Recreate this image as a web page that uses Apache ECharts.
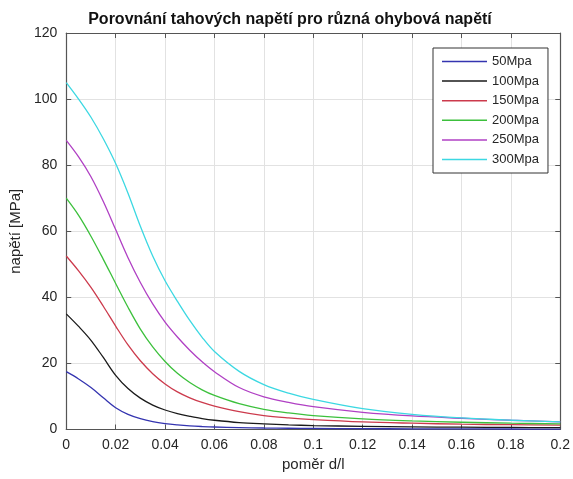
<!DOCTYPE html>
<html>
<head>
<meta charset="utf-8">
<script src="https://cdn.jsdelivr.net/npm/echarts/dist/echarts.min.js"></script>
<style>
  html, body { margin: 0; padding: 0; background: #fff; }
  #chart { width: 573px; height: 479px; }
</style>
</head>
<body>
<div id="chart"></div>
<script>
"use strict";

// pomer d/l
var ratio = [0, 0.005, 0.01, 0.015, 0.02, 0.025, 0.03, 0.035, 0.04, 0.045, 0.05,
  0.055, 0.06, 0.07, 0.08, 0.09, 0.1, 0.12, 0.14, 0.16, 0.18, 0.2];

// napeti [MPa] for each bending stress
var s50 = [17.5, 15.3, 12.7, 9.6, 6.6, 4.6, 3.3, 2.4, 1.8, 1.4, 1.1,
  0.9, 0.75, 0.58, 0.46, 0.38, 0.32, 0.25, 0.2, 0.17, 0.15, 0.13];
var s100 = [35, 31.2, 27, 21.8, 16.4, 12.4, 9.5, 7.4, 5.9, 4.8, 4.0,
  3.3, 2.8, 2.1, 1.7, 1.4, 1.2, 0.95, 0.8, 0.7, 0.62, 0.55];
var s150 = [52.5, 48, 43, 37.3, 31.3, 25.6, 20.8, 16.9, 13.8, 11.4, 9.6,
  8.2, 7.1, 5.4, 4.2, 3.5, 3.0, 2.3, 1.9, 1.6, 1.45, 1.3];
var s200 = [70, 64.8, 58.5, 51.5, 44.2, 37, 30.4, 25, 20.6, 17, 14.2,
  12, 10.3, 7.8, 6.1, 5.0, 4.2, 3.2, 2.6, 2.2, 1.9, 1.7];
var s250 = [87.5, 82.5, 76.5, 69, 60.5, 52, 44.5, 38, 32.5, 28, 24,
  20.5, 17.5, 12.7, 9.9, 8.2, 6.9, 5.2, 4.1, 3.4, 2.8, 2.3];
var s300 = [105, 100, 94.5, 88, 80.5, 71.5, 61.5, 52.5, 45, 38.8, 33,
  27.9, 23.6, 17.6, 13.6, 11, 9.1, 6.3, 4.6, 3.5, 2.8, 2.3];

var names = ["50Mpa", "100Mpa", "150Mpa", "200Mpa", "250Mpa", "300Mpa"];
var colors = ["#3434b0", "#1a1a1a", "#cc3a4c", "#3cc03c", "#b040c4", "#3cd8e2"];
var values = [s50, s100, s150, s200, s250, s300];

var font = "Liberation Sans, Arial, sans-serif";
var axisColor = "#555";
var textColor = "#262626";

function pairs(ys) {
  return ratio.map(function (x, i) { return [x, ys[i]]; });
}

var chart = echarts.init(document.getElementById("chart"));

var series = names.map(function (name, i) {
  return {
    name: name,
    type: "line",
    data: pairs(values[i]),
    smooth: 0.35,
    symbol: "none",
    lineStyle: { color: colors[i], width: 1.3 },
    itemStyle: { color: colors[i] },
  };
});

chart.setOption({
  animation: false,
  backgroundColor: "#fff",
  title: {
    text: "Porovnání tahových napětí pro různá ohybová napětí",
    left: 285,
    top: 7,
    textAlign: "center",
    textStyle: { fontFamily: font, fontSize: 16, fontWeight: "bold", color: "#111" },
  },
  legend: {
    left: 433,
    top: 48,
    orient: "vertical",
    icon: "rect",
    itemWidth: 45,
    itemHeight: 1.5,
    itemGap: 4.6,
    padding: [6, 9, 6, 9],
    backgroundColor: "#fff",
    borderColor: "#333",
    borderWidth: 1,
    borderRadius: 0,
    textStyle: { fontFamily: font, fontSize: 13, color: textColor, lineHeight: 15 },
    data: names,
  },
  grid: { left: 62, right: 11, top: 33, bottom: 49.5 },
  xAxis: [
    {
      type: "value",
      min: 0,
      max: 0.2,
      interval: 0.02,
      name: "poměr d/l",
      nameLocation: "middle",
      nameGap: 27,
      nameTextStyle: { fontFamily: font, fontSize: 15, color: textColor },
      axisLine: { show: true, onZero: false, lineStyle: { color: axisColor, width: 1.2 } },
      axisTick: { show: true, inside: true, length: 5, lineStyle: { color: axisColor } },
      axisLabel: { fontFamily: font, fontSize: 14, color: textColor, margin: 9 },
      splitLine: { show: true, lineStyle: { color: "#e2e2e2", width: 1 } },
    },
    {
      type: "value",
      position: "top",
      min: 0,
      max: 0.2,
      interval: 0.02,
      axisLine: { show: true, onZero: false, lineStyle: { color: axisColor, width: 1.2 } },
      axisTick: { show: true, inside: true, length: 5, lineStyle: { color: axisColor } },
      axisLabel: { show: false },
      splitLine: { show: false },
    },
  ],
  yAxis: [
    {
      type: "value",
      min: 0,
      max: 120,
      interval: 20,
      name: "napětí [MPa]",
      nameLocation: "middle",
      nameGap: 39,
      nameTextStyle: { fontFamily: font, fontSize: 15, color: textColor },
      axisLine: { show: true, onZero: false, lineStyle: { color: axisColor, width: 1.2 } },
      axisTick: { show: true, inside: true, length: 5, lineStyle: { color: axisColor } },
      axisLabel: { fontFamily: font, fontSize: 14, color: textColor, margin: 9 },
      splitLine: { show: true, lineStyle: { color: "#e2e2e2", width: 1 } },
    },
    {
      type: "value",
      position: "right",
      min: 0,
      max: 120,
      interval: 20,
      axisLine: { show: true, onZero: false, lineStyle: { color: axisColor, width: 1.2 } },
      axisTick: { show: true, inside: true, length: 5, lineStyle: { color: axisColor } },
      axisLabel: { show: false },
      splitLine: { show: false },
    },
  ],
  series: series,
});
</script>
</body>
</html>
